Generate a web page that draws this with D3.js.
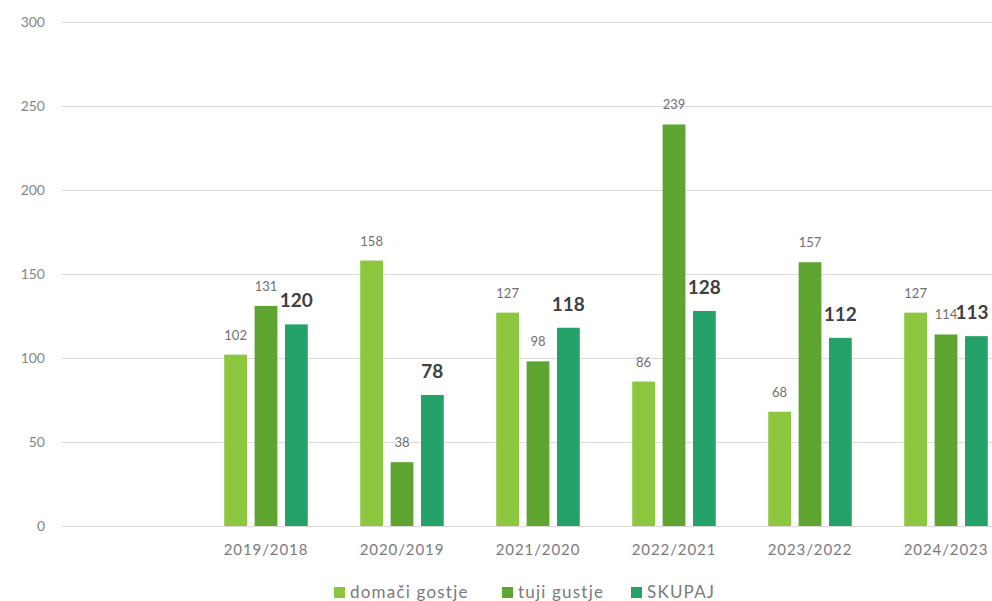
<!DOCTYPE html>
<html>
<head>
<meta charset="utf-8">
<script src="https://cdn.jsdelivr.net/npm/d3@7"></script>
<style>
html,body{margin:0;padding:0;background:#fff;}
svg{display:block;}
</style>
</head>
<body>
<svg id="chart" width="992" height="601"></svg>
<script>
const categories = ["", "2019/2018", "2020/2019", "2021/2020", "2022/2021", "2023/2022", "2024/2023"];
const seriesNames = ["domači gostje", "tuji gustje", "SKUPAJ"];
const domaci = [null, 102, 158, 127, 86, 68, 127];
const tuji = [null, 131, 38, 98, 239, 157, 114];
const skupaj = [null, 120, 78, 118, 128, 112, 113];
const yTicks = [0, 50, 100, 150, 200, 250, 300];
const colors = ["#8dc63f", "#5ea532", "#24a26a"];

const seriesValues = [domaci, tuji, skupaj];
const svg = d3.select("#chart");
const font = "Lato, 'Open Sans', sans-serif";

const y = d3.scaleLinear().domain([0, 300]).range([526, 22]);
const x0 = d3.scaleBand().domain(categories).range([62, 1014]).paddingInner(0.33).paddingOuter(0.165);
const x1 = d3.scaleBand().domain(seriesNames).range([0, x0.bandwidth()]).paddingInner(0.25).paddingOuter(0.125);

// gridlines
const yAxis = d3.axisLeft(y).tickValues(yTicks).tickSize(-(992 - 62)).tickPadding(17);
const gy = svg.append("g").attr("transform", "translate(62,0)").call(yAxis);
gy.select(".domain").remove();
gy.selectAll(".tick line").attr("stroke", "#d9d9d9").attr("stroke-width", 1.2);
gy.selectAll(".tick text").attr("fill", "#858585").attr("font-family", font).attr("font-size", 14);

// x axis labels
const xAxis = d3.axisBottom(x0).tickSize(0).tickPadding(18);
const gx = svg.append("g").attr("transform", "translate(0,526)").call(xAxis);
gx.select(".domain").remove();
gx.selectAll(".tick text").attr("fill", "#7a7a7a").attr("font-family", font).attr("font-size", 15)
  .attr("letter-spacing", "0.9px");

// bars
seriesNames.forEach((s, si) => {
  const vals = seriesValues[si];
  const data = categories.map((c, i) => ({c, v: vals[i]})).filter(d => d.v != null);
  const g = svg.append("g");
  g.selectAll("rect").data(data).join("rect")
    .attr("x", d => x0(d.c) + x1(s))
    .attr("width", x1.bandwidth())
    .attr("y", d => y(d.v))
    .attr("height", d => y(0) - y(d.v))
    .attr("fill", colors[si]);
  const bold = si === 2;
  g.selectAll("text").data(data).join("text")
    .attr("x", d => Math.min(x0(d.c) + x1(s) + x1.bandwidth() / 2, 972))
    .attr("y", d => y(d.v) - (bold ? 17 : 15))
    .attr("text-anchor", "middle")
    .attr("font-family", font)
    .attr("font-size", bold ? 19 : 13)
    .attr("font-weight", bold ? "bold" : "normal")
    .attr("fill", bold ? "#404040" : "#707070")
    .text(d => d.v);
});

// legend
const legendX = [334, 502, 631];
const lg = svg.append("g");
seriesNames.forEach((s, i) => {
  lg.append("rect").attr("x", legendX[i]).attr("y", 587).attr("width", 11).attr("height", 11).attr("fill", colors[i]);
  lg.append("text").attr("x", legendX[i] + 16).attr("y", 598)
    .attr("font-family", font).attr("font-size", 17).attr("letter-spacing", "1.2px")
    .attr("fill", "#7a7a7a").text(s);
});
</script>
</body>
</html>
